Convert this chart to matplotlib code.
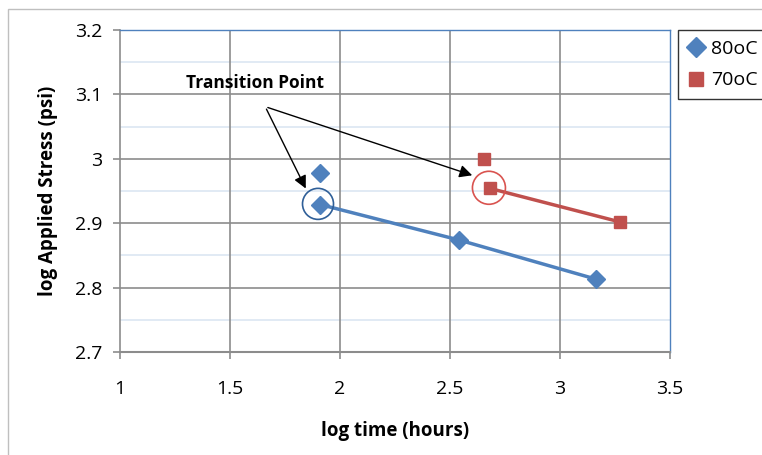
import matplotlib.pyplot as plt
from matplotlib.patches import Ellipse, Rectangle

# dados
x80 = [1.91, 2.54, 3.165]
y80 = [2.929, 2.874, 2.813]
x80_extra = [1.91]
y80_extra = [2.978]

x70 = [2.682, 3.272]
y70 = [2.954, 2.902]
x70_extra = [2.655]
y70_extra = [3.0]

transicao80 = (1.90, 2.930)
transicao70 = (2.677, 2.955)

xticks = [1, 1.5, 2, 2.5, 3, 3.5]
yticks = [2.7, 2.8, 2.9, 3.0, 3.1, 3.2]
yticklabels = ["2.7", "2.8", "2.9", "3", "3.1", "3.2"]

azul = "#4F81BD"
vermelho = "#C0504D"

plt.rcParams["font.family"] = ["Open Sans", "DejaVu Sans"]

fig = plt.figure(figsize=(7.62, 4.55), dpi=100)
ax = fig.add_axes([120 / 762, 1 - 352 / 455, 550 / 762, 322 / 455])

# borda do gráfico
fig.patches.append(Rectangle((8 / 762, -0.05), 1.2, 1 - 9 / 455 + 0.05,
                             transform=fig.transFigure, fill=False,
                             edgecolor="#bfbfbf", linewidth=1))

# linhas de grade
for v in [2.75, 2.85, 2.95, 3.05, 3.15]:
    ax.axhline(v, color="#dce6f2", linewidth=1.2, zorder=0)
for v in yticks[1:-1]:
    ax.axhline(v, color="#8c8c8c", linewidth=1.2, zorder=0)
for v in xticks[1:-1]:
    ax.axvline(v, color="#8c8c8c", linewidth=1.2, zorder=0)

# séries
ax.plot(x80, y80, "-D", color=azul, linewidth=2.5, markersize=9, label="80oC", zorder=3)
ax.plot(x80_extra, y80_extra, "D", color=azul, markersize=9, zorder=3)
ax.plot(x70, y70, "-s", color=vermelho, linewidth=2.5, markersize=9, label="70oC", zorder=3)
ax.plot(x70_extra, y70_extra, "s", color=vermelho, markersize=9, zorder=3)

# círculos nos pontos de transição
ax.add_patch(Ellipse(transicao80, 31 / 220, 31 / 644, fill=False, edgecolor="#2f5f98", linewidth=1.2, zorder=4))
ax.add_patch(Ellipse(transicao70, 33 / 220, 33 / 644, fill=False, edgecolor="#d9534f", linewidth=1.2, zorder=4))

# anotação
origem = (1.66, 3.081)
ax.text(1.615, 3.117, "Transition Point", ha="center", va="center", fontsize=12.5,
        fontweight="bold", fontstretch="condensed")
ax.annotate("", xy=(1.85, 2.950), xytext=origem,
            arrowprops=dict(arrowstyle="-|>", color="black", lw=1, mutation_scale=19))
ax.annotate("", xy=(2.613, 2.973), xytext=origem,
            arrowprops=dict(arrowstyle="-|>", color="black", lw=1, mutation_scale=19))

ax.set_xlim(1, 3.5)
ax.set_ylim(2.7, 3.2)
ax.set_xticks(xticks)
ax.set_yticks(yticks)
ax.set_xticklabels(["1", "1.5", "2", "2.5", "3", "3.5"])
ax.set_yticklabels(yticklabels)
ax.tick_params(labelsize=14, length=5, color="#8c8c8c", width=1.2)
ax.tick_params(axis="x", pad=15)
ax.tick_params(axis="y", pad=8)

ax.spines["left"].set_color("#8c8c8c")
ax.spines["bottom"].set_color("#8c8c8c")
ax.spines["left"].set_linewidth(1.2)
ax.spines["bottom"].set_linewidth(1.5)
ax.spines["top"].set_color(azul)
ax.spines["right"].set_color(azul)
ax.spines["top"].set_linewidth(1)
ax.spines["right"].set_linewidth(1)

ax.set_xlabel("log time (hours)", fontsize=13.5, fontweight="bold", labelpad=17)
ax.set_ylabel("log Applied Stress (psi)", fontsize=13.5, fontweight="bold", labelpad=12)

leg = ax.legend(loc="upper left", bbox_to_anchor=(678 / 762, 1 - 30 / 455),
                bbox_transform=fig.transFigure, frameon=True, fancybox=False,
                fontsize=14, handlelength=0.8, handletextpad=0.4,
                borderpad=0.5, labelspacing=0.7, borderaxespad=0, markerscale=1.1)
leg.get_frame().set_edgecolor("black")
leg.get_frame().set_linewidth(1)
for h in leg.get_lines():
    h.set_linestyle("")

fig.savefig("out.png", dpi=100)
